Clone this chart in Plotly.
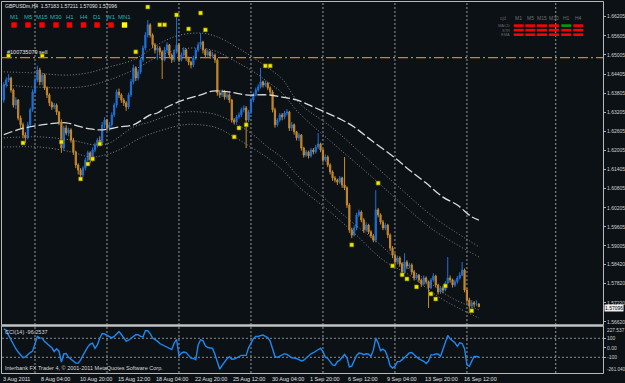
import plotly.graph_objects as go

# ---------------- data ----------------
SYMBOL = "GBPUSDm,H4"
LAST_OHLC = ["1.57183", "1.57211", "1.57090", "1.57096"]

FIRST_OPEN = 1.6359
CLOSE = [
    1.6406, 1.6422, 1.6428, 1.6390, 1.6343, 1.6359, 1.6302, 1.6281, 1.6249, 1.6240,
    1.6281, 1.6328, 1.6384, 1.6422, 1.6453, 1.6416, 1.6437, 1.6397, 1.6375, 1.6350,
    1.6337, 1.6343, 1.6321, 1.6290, 1.6208, 1.6271, 1.6255, 1.6265, 1.6233, 1.6196,
    1.6155, 1.6139, 1.6123, 1.6145, 1.6171, 1.6193, 1.6171, 1.6202, 1.6218, 1.6233,
    1.6224, 1.6281, 1.6296, 1.6271, 1.6281, 1.6312, 1.6343, 1.6384, 1.6375, 1.6359,
    1.6350, 1.6337, 1.6375, 1.6416, 1.6460, 1.6428, 1.6447, 1.6485, 1.6522, 1.6563,
    1.6595, 1.6563, 1.6532, 1.6516, 1.6522, 1.6510, 1.6485, 1.6516, 1.6532, 1.6500,
    1.6485, 1.6510, 1.6532, 1.6485, 1.6500, 1.6516, 1.6491, 1.6478, 1.6469, 1.6491,
    1.6516, 1.6532, 1.6541, 1.6516, 1.6500, 1.6510, 1.6497, 1.6500, 1.6485, 1.6381,
    1.6375, 1.6384, 1.6368, 1.6375, 1.6359, 1.6296, 1.6290, 1.6306, 1.6312, 1.6328,
    1.6334, 1.6296, 1.6321, 1.6359, 1.6375, 1.6390, 1.6400, 1.6416, 1.6406, 1.6412,
    1.6397, 1.6384, 1.6328, 1.6281, 1.6296, 1.6312, 1.6306, 1.6318, 1.6321, 1.6271,
    1.6281, 1.6259, 1.6240, 1.6249, 1.6208, 1.6186, 1.6196, 1.6183, 1.6202, 1.6196,
    1.6211, 1.6221, 1.6202, 1.6171, 1.6180, 1.6155, 1.6133, 1.6114, 1.6108, 1.6101,
    1.6114, 1.6092, 1.6083, 1.6029, 1.5951, 1.5935, 1.5957, 1.5998, 1.6007, 1.5982,
    1.5951, 1.5966, 1.5945, 1.5932, 1.5919, 1.6014, 1.5998, 1.5976, 1.5957, 1.5966,
    1.5935, 1.5894, 1.5872, 1.5850, 1.5863, 1.5844, 1.5819, 1.5850, 1.5838, 1.5841,
    1.5819, 1.5800, 1.5809, 1.5794, 1.5781, 1.5800, 1.5788, 1.5769, 1.5794, 1.5806,
    1.5778, 1.5756, 1.5769, 1.5762, 1.5784, 1.5800, 1.5794, 1.5778, 1.5788, 1.5800,
    1.5809, 1.5825, 1.5762, 1.5731, 1.5712, 1.5722, 1.5718, 1.57183, 1.57096,
]
HIGH = [
    1.6415, 1.6430, 1.6440, 1.6432, 1.6395, 1.6368, 1.6362, 1.6310, 1.6288, 1.6258,
    1.6290, 1.6335, 1.6392, 1.6430, 1.6467, 1.6460, 1.6445, 1.6442, 1.6402, 1.6380,
    1.6355, 1.6350, 1.6348, 1.6325, 1.6298, 1.6278, 1.6280, 1.6272, 1.6270, 1.6240,
    1.6200, 1.6160, 1.6145, 1.6152, 1.6178, 1.6200, 1.6198, 1.6210, 1.6225, 1.6240,
    1.6245, 1.6290, 1.6305, 1.6300, 1.6290, 1.6320, 1.6350, 1.6392, 1.6395, 1.6380,
    1.6365, 1.6355, 1.6382, 1.6425, 1.6470, 1.6465, 1.6455, 1.6492, 1.6530, 1.6572,
    1.6610, 1.6600, 1.6568, 1.6538, 1.6530, 1.6528, 1.6515, 1.6525, 1.6540, 1.6535,
    1.6505, 1.6518, 1.6626, 1.6538, 1.6508, 1.6525, 1.6520, 1.6495, 1.6482, 1.6498,
    1.6522, 1.6540, 1.6569, 1.6545, 1.6520, 1.6518, 1.6515, 1.6510, 1.6505, 1.6490,
    1.6390, 1.6392, 1.6390, 1.6382, 1.6380, 1.6362, 1.6302, 1.6312, 1.6320, 1.6335,
    1.6342, 1.6340, 1.6328, 1.6365, 1.6382, 1.6398, 1.6408, 1.6460, 1.6420, 1.6420,
    1.6415, 1.6402, 1.6390, 1.6335, 1.6302, 1.6318, 1.6318, 1.6325, 1.6330, 1.6325,
    1.6290, 1.6285, 1.6262, 1.6255, 1.6252, 1.6212, 1.6202, 1.6200, 1.6208, 1.6208,
    1.6218, 1.6255, 1.6225, 1.6205, 1.6188, 1.6185, 1.6160, 1.6138, 1.6120, 1.6112,
    1.6120, 1.6118, 1.6180, 1.6088, 1.6035, 1.5958, 1.5965, 1.6005, 1.6015, 1.6012,
    1.5988, 1.5975, 1.5970, 1.5950, 1.5938, 1.6076, 1.6020, 1.6003, 1.5982, 1.5972,
    1.5970, 1.5940, 1.5900, 1.5878, 1.5870, 1.5868, 1.5850, 1.5878, 1.5856, 1.5848,
    1.5846, 1.5825, 1.5815, 1.5812, 1.5798, 1.5808, 1.5805, 1.5792, 1.5800, 1.5815,
    1.5810, 1.5782, 1.5775, 1.5775, 1.5790, 1.5866, 1.5808, 1.5798, 1.5795, 1.5806,
    1.5818, 1.5850, 1.5830, 1.5768, 1.5738, 1.5730, 1.5728, 1.5730, 1.57211,
]
LOW = [
    1.6350, 1.6398, 1.6415, 1.6382, 1.6335, 1.6330, 1.6295, 1.6270, 1.6238, 1.6224,
    1.6235, 1.6275, 1.6322, 1.6378, 1.6415, 1.6405, 1.6405, 1.6390, 1.6365, 1.6340,
    1.6328, 1.6330, 1.6312, 1.6280, 1.6193, 1.6200, 1.6248, 1.6245, 1.6225, 1.6186,
    1.6145, 1.6125, 1.6114, 1.6115, 1.6138, 1.6165, 1.6160, 1.6165, 1.6195, 1.6210,
    1.6215, 1.6218, 1.6270, 1.6262, 1.6262, 1.6275, 1.6305, 1.6335, 1.6365, 1.6350,
    1.6340, 1.6325, 1.6330, 1.6368, 1.6408, 1.6418, 1.6420, 1.6440, 1.6478, 1.6515,
    1.6555, 1.6555, 1.6522, 1.6505, 1.6485, 1.6500, 1.6425, 1.6480, 1.6508, 1.6490,
    1.6475, 1.6478, 1.6505, 1.6478, 1.6480, 1.6495, 1.6482, 1.6468, 1.6458, 1.6462,
    1.6485, 1.6510, 1.6525, 1.6505, 1.6490, 1.6495, 1.6488, 1.6490, 1.6475, 1.6372,
    1.6365, 1.6368, 1.6360, 1.6360, 1.6350, 1.6288, 1.6282, 1.6285, 1.6300, 1.6305,
    1.6320, 1.6208, 1.6290, 1.6315, 1.6352, 1.6370, 1.6385, 1.6395, 1.6398, 1.6400,
    1.6390, 1.6375, 1.6320, 1.6272, 1.6275, 1.6290, 1.6295, 1.6298, 1.6310, 1.6262,
    1.6262, 1.6250, 1.6232, 1.6230, 1.6200, 1.6178, 1.6180, 1.6175, 1.6178, 1.6188,
    1.6190, 1.6205, 1.6195, 1.6162, 1.6165, 1.6148, 1.6125, 1.6105, 1.6100, 1.6092,
    1.6095, 1.6083, 1.6076, 1.6020, 1.5942, 1.5925, 1.5930, 1.5950, 1.5992, 1.5975,
    1.5942, 1.5945, 1.5938, 1.5925, 1.5912, 1.5912, 1.5990, 1.5968, 1.5950, 1.5950,
    1.5925, 1.5885, 1.5862, 1.5835, 1.5842, 1.5835, 1.5810, 1.5812, 1.5828, 1.5830,
    1.5810, 1.5792, 1.5795, 1.5786, 1.5772, 1.5776, 1.5780, 1.5706, 1.5765, 1.5788,
    1.5770, 1.5748, 1.5750, 1.5752, 1.5758, 1.5780, 1.5785, 1.5770, 1.5772, 1.5782,
    1.5795, 1.5805, 1.5755, 1.5722, 1.5690, 1.5705, 1.5708, 1.5712, 1.57090,
]
CCI = [
    200, 185, 130, 80, 25, -10, -45, -80, -105, -95,
    -70, -50, -35, 50, 118, 105, 102, 65, 40, 20,
    0, -39, -10, -36, -150, -65, -60, -100, -118, -135,
    -161, -161, -130, -80, -30, 10, 38, 48, -5, 30,
    100, 150, 145, 130, 118, 105, 120, 145, 170, 140,
    100, 70, 80, 100, 123, 137, 137, 120, 115, 180,
    180, 150, 102, 88, 70, 45, 33, 20, 10, -5,
    -18, 50, 90, -85, -55, -45, -50, -80, -109, -112,
    -126, 30, 84, 75, 22, 3, -3, -6, -70, -150,
    -225, -185, -145, -115, -93, -120, -118, -105, -92, -80,
    -80, -80, 0, 55, 95, 119, 119, 128, 134, 121,
    108, 70, -25, -90, -100, -88, -75, -62, -70, -92,
    -105, -109, -113, -125, -138, -130, -105, -80, -63, -52,
    -39, -26, -5, -40, -100, -112, -150, -180, -185, -145,
    -131, -105, -70, -105, -200, -193, -144, -80, -56, -60,
    -72, -63, -68, -90, -25, 102, 50, -30, -15, -35,
    -100, -190, -214, -195, -145, -144, -125, -104, -79, -54,
    -50, -75, -100, -117, -129, -142, -165, -140, -74, -74,
    -65, -64, -89, -20, 60, 130, 94, 76, 53, 16,
    52, 45, -10, -180, -195, -140, -91, -91, -96.2537,
]
CCI_LABEL = "CCI(14) -96.2537"

MA_X = [0, 7, 19, 26, 31, 36, 40, 44, 48, 54, 61, 64, 68, 75, 82, 87, 94, 101, 110, 116,
        122, 129, 141, 146, 153, 163, 169, 176, 183, 189, 195, 198]
MA_Y = [1.6250, 1.6268, 1.6284, 1.6287, 1.6277, 1.6268, 1.6265, 1.6268, 1.6274, 1.6281,
        1.6312, 1.6318, 1.6337, 1.6359, 1.6375, 1.6387, 1.6384, 1.6375, 1.6375, 1.6368,
        1.6359, 1.6337, 1.6296, 1.6274, 1.6233, 1.6177, 1.6139, 1.6098, 1.6054, 1.6029,
        1.5992, 1.5982]

U_X = [0, 12, 26, 35, 44, 54, 64, 72, 82, 89, 97, 103, 110, 116, 123, 137, 151, 165, 179, 198]
U1_Y = [1.6447, 1.6444, 1.6437, 1.6444, 1.6463, 1.6485, 1.6532, 1.6560, 1.6569, 1.6557,
        1.6525, 1.6497, 1.6460, 1.6425, 1.6350, 1.6271, 1.6177, 1.6083, 1.5992, 1.5898]
U2_Y = [1.6406, 1.6400, 1.6397, 1.6403, 1.6422, 1.6453, 1.6494, 1.6516, 1.6522, 1.6510,
        1.6478, 1.6453, 1.6416, 1.6381, 1.6318, 1.6224, 1.6133, 1.6039, 1.5951, 1.5866]
L1_X = [0, 15, 28, 38, 44, 54, 61, 68, 75, 82, 89, 96, 103, 110, 116, 123, 133, 144, 156,
        165, 176, 186, 198]
L1_Y = [1.6240, 1.6243, 1.6233, 1.6218, 1.6224, 1.6274, 1.6290, 1.6309, 1.6321, 1.6321,
        1.6312, 1.6287, 1.6255, 1.6211, 1.6177, 1.6117, 1.6054, 1.5982, 1.5910, 1.5850,
        1.5794, 1.5740, 1.5700]
L2_X = [0, 15, 28, 36, 42, 48, 57, 65, 75, 82, 89, 96, 103, 110, 116, 123, 135, 146, 158,
        169, 182, 198]
L2_Y = [1.6211, 1.6211, 1.6196, 1.6180, 1.6186, 1.6202, 1.6240, 1.6262, 1.6281, 1.6281,
        1.6271, 1.6243, 1.6211, 1.6177, 1.6139, 1.6086, 1.6014, 1.5941, 1.5857, 1.5809,
        1.5737, 1.5674]

SIG_X = [2, 16, 55, 8, 24, 32, 35, 37, 40, 60, 65, 67, 72, 77, 82, 84, 96, 98, 101, 109,
         111, 145, 156, 162, 166, 168, 172, 178, 180, 184, 195]
SIG_Y = [1.6497, 1.6497, 1.6510, 1.6224, 1.6227, 1.6111, 1.6158, 1.6174, 1.6221, 1.6651,
         1.6595, 1.6595, 1.6626, 1.6582, 1.6632, 1.6579, 1.6243, 1.6271, 1.6281, 1.6466,
         1.6466, 1.5904, 1.6098, 1.5838, 1.5810, 1.5797, 1.5772, 1.5750, 1.5734, 1.5775,
         1.5697]

ORDER_PRICE = 1.6492
ORDER_LABEL = "#100735079 sell"

PRICE_TICKS = ["1.66205", "1.65605", "1.65005", "1.64405", "1.63805", "1.63205", "1.62605",
               "1.62005", "1.61405", "1.60805", "1.60205", "1.59605", "1.59005", "1.58420",
               "1.57820", "1.57220", "1.56620"]
CCI_TICKS = ["100", "0.00", "-100"]
CCI_TICK_VALS = [100, 0, -100]
CCI_MAX_LABEL = "227.537"
CCI_MIN_LABEL = "-261.040"

DATE_LABELS = ["3 Aug 2011", "8 Aug 04:00", "10 Aug 20:00", "15 Aug 12:00", "18 Aug 04:00",
               "22 Aug 20:00", "25 Aug 12:00", "30 Aug 04:00", "1 Sep 20:00", "6 Sep 12:00",
               "9 Sep 04:00", "13 Sep 20:00", "16 Sep 12:00"]
DATE_BARS = [0, 16, 32, 48, 64, 80, 96, 112, 128, 144, 160, 176, 192]
GRID_BARS = [13, 43, 73, 103, 133, 163, 193, 230]

TF_LABELS = ["M1", "M5", "M15", "M30", "H1", "H4", "D1", "W1", "MN1"]
TF_STATE = ["#ff0000", "#ff0000", "#ff0000", "#ff0000", "#ff0000", "#ff0000", "#ff0000",
            "#ff0000", "#ffff00"]
PANEL_COLS = ["M1", "M5", "M15", "M30", "H1", "H4"]
PANEL_ROWS = ["MACD", "STR", "EMA"]
PANEL_STATE = [
    ["#ff0000", "#ff0000", "#ff0000", "#ff0000", "#00a000", "#ff0000"],
    ["#ff0000", "#ff0000", "#ff0000", "#ff0000", "#ff0000", "#ff0000"],
    ["#ff0000", "#ff0000", "#ff0000", "#ff0000", "#ff0000", "#ff0000"],
]
FOOTER = "Interbank FX Trader 4, \u00a9 2001-2011 MetaQuotes Software Corp."

# ---------------- layout helpers ----------------
W, H = 625, 383
BG = "#0b1115"
FONT = "Liberation Sans"


def px(x):
    return x / W


def py(y):
    return 1 - y / H


X_DOM = [px(2), px(603)]
Y_MAIN = [py(325), py(2)]
Y_CCI = [py(373), py(326)]
XR = [-0.75, 249.7]
YR_MAIN = [1.56524, 1.66666]
YR_CCI = [-265.3, 229.5]

bars = list(range(len(CLOSE)))
opens = [FIRST_OPEN] + CLOSE[:-1]

fig = go.Figure()

# envelope bands (dotted)
for xs, ys in [(U_X, U1_Y), (U_X, U2_Y), (L1_X, L1_Y), (L2_X, L2_Y)]:
    fig.add_trace(go.Scatter(x=xs, y=ys, mode="lines", xaxis="x", yaxis="y",
                             line=dict(color="#8a8a8a", width=1, dash="1px,2px", shape="spline"),
                             hoverinfo="skip"))
# long moving average (dashed)
fig.add_trace(go.Scatter(x=MA_X, y=MA_Y, mode="lines", xaxis="x", yaxis="y",
                         line=dict(color="#dcdcdc", width=1.3, dash="9px,3px", shape="spline"),
                         hoverinfo="skip"))

fig.add_trace(go.Candlestick(
    x=bars, open=opens, high=HIGH, low=LOW, close=CLOSE, xaxis="x", yaxis="y",
    increasing=dict(line=dict(color="#1f70d6", width=1), fillcolor="#1f70d6"),
    decreasing=dict(line=dict(color="#c98a2c", width=1), fillcolor="#b97a26"),
    whiskerwidth=0, hoverinfo="skip"))

fig.add_trace(go.Scatter(x=SIG_X, y=SIG_Y, mode="markers", xaxis="x", yaxis="y",
                         marker=dict(symbol="square", size=4, color="#f2ea00",
                                     line=dict(color="#6a6400", width=0.6)),
                         hoverinfo="skip"))

fig.add_trace(go.Scatter(x=bars, y=CCI, mode="lines", xaxis="x2", yaxis="y2",
                         line=dict(color="#1e88f0", width=1.4), hoverinfo="skip"))

shapes = []
# vertical grid
for b in GRID_BARS:
    shapes.append(dict(type="line", xref="x", yref="paper", x0=b, x1=b, y0=py(373), y1=py(2),
                       line=dict(color="#9a9a9a", width=1, dash="2px,2px"), layer="below"))
# CCI levels
for v in [100, -100]:
    shapes.append(dict(type="line", xref="paper", yref="y2", x0=X_DOM[0], x1=X_DOM[1], y0=v, y1=v,
                       line=dict(color="#8a8a8a", width=1, dash="2px,2px"), layer="below"))
# order line
shapes.append(dict(type="line", xref="paper", yref="y", x0=X_DOM[0], x1=X_DOM[1],
                   y0=ORDER_PRICE, y1=ORDER_PRICE,
                   line=dict(color="#d8801a", width=1.2, dash="10px,3px,2px,3px")))
# borders
shapes.append(dict(type="rect", xref="paper", yref="paper", x0=px(1.5), x1=px(603.5),
                   y0=py(325), y1=py(1.5), line=dict(color="#b8b8b8", width=1)))
shapes.append(dict(type="rect", xref="paper", yref="paper", x0=px(1.5), x1=px(603.5),
                   y0=py(373.5), y1=py(326), line=dict(color="#b8b8b8", width=1)))
shapes.append(dict(type="line", xref="paper", yref="paper", x0=px(1.5), x1=px(603.5),
                   y0=py(325.5), y1=py(325.5), line=dict(color="#c4c4c4", width=2)))

annotations = []
# timeframe row
TF_CX = [14, 28, 42, 56, 69.5, 83.5, 97, 111, 124.5]
for lab, col, cx in zip(TF_LABELS, TF_STATE, TF_CX):
    annotations.append(dict(text=lab, x=px(cx), y=py(17.5), xref="paper", yref="paper",
                            showarrow=False, xanchor="center", yanchor="middle",
                            font=dict(family=FONT, size=6, color="#22b4b4")))
    shapes.append(dict(type="rect", xref="paper", yref="paper", x0=px(cx - 2.7), x1=px(cx + 2.7),
                       y0=py(27.7), y1=py(22.3), fillcolor=col, line=dict(width=0)))

# right panel
COL_CX = [518.7, 530.3, 542, 554, 566.3, 578.3]
ROW_CY = [25.6, 30.2, 34.7]
annotations.append(dict(text="ojd", x=px(503), y=py(18.5), xref="paper", yref="paper",
                        showarrow=False, xanchor="center", yanchor="middle",
                        font=dict(family=FONT, size=4.5, color="#5e5e5e")))
for lab, cx in zip(PANEL_COLS, COL_CX):
    annotations.append(dict(text=lab, x=px(cx), y=py(18.5), xref="paper", yref="paper",
                            showarrow=False, xanchor="center", yanchor="middle",
                            font=dict(family=FONT, size=5, color="#707070")))
for r, (lab, cy) in enumerate(zip(PANEL_ROWS, ROW_CY)):
    annotations.append(dict(text=lab, x=px(511.5), y=py(cy), xref="paper", yref="paper",
                            showarrow=False, xanchor="right", yanchor="middle",
                            font=dict(family=FONT, size=4, color="#6a6a6a")))
    for c, cx in enumerate(COL_CX):
        shapes.append(dict(type="rect", xref="paper", yref="paper", x0=px(cx - 5), x1=px(cx + 5),
                           y0=py(cy + 1.3), y1=py(cy - 1.3), fillcolor=PANEL_STATE[r][c],
                           line=dict(width=0)))

# header text
annotations.append(dict(text=SYMBOL + "  " + " ".join(LAST_OHLC), x=px(2.5), y=py(6),
                        xref="paper", yref="paper", showarrow=False, xanchor="left",
                        yanchor="middle", font=dict(family=FONT, size=5, color="#e6e6e6")))
annotations.append(dict(text=ORDER_LABEL, x=px(5), y=py(52), xref="paper", yref="paper",
                        showarrow=False, xanchor="left", yanchor="middle",
                        font=dict(family=FONT, size=5.5, color="#e6e6e6")))
# CCI texts
annotations.append(dict(text=CCI_LABEL, x=px(3), y=py(331.5), xref="paper", yref="paper",
                        showarrow=False, xanchor="left", yanchor="middle",
                        font=dict(family=FONT, size=5.5, color="#d8d8d8")))
annotations.append(dict(text=FOOTER, x=px(3), y=py(368), xref="paper", yref="paper",
                        showarrow=False, xanchor="left", yanchor="middle",
                        font=dict(family=FONT, size=5.5, color="#d8d8d8")))
annotations.append(dict(text=CCI_MAX_LABEL, x=px(605), y=py(330), xref="paper", yref="paper",
                        showarrow=False, xanchor="left", yanchor="middle",
                        font=dict(family=FONT, size=4.8, color="#d0d0d0")))
annotations.append(dict(text=CCI_MIN_LABEL, x=px(604.5), y=py(369.5), xref="paper", yref="paper",
                        showarrow=False, xanchor="left", yanchor="middle",
                        font=dict(family=FONT, size=4.6, color="#d0d0d0")))
# date labels
for lab, b in zip(DATE_LABELS, DATE_BARS):
    annotations.append(dict(text=lab, x=b, y=py(378.5), xref="x2", yref="paper",
                            showarrow=False, xanchor="left", yanchor="middle", xshift=-3,
                            font=dict(family=FONT, size=5.5, color="#e0e0e0")))
# current price box
annotations.append(dict(text=LAST_OHLC[3], x=px(604), y=float(LAST_OHLC[3]), xref="paper",
                        yref="y", showarrow=False, xanchor="left", yanchor="middle",
                        bgcolor="#eeeeee", borderpad=0, yshift=-1,
                        font=dict(family=FONT, size=5, color="#000000")))

fig.update_layout(
    width=W, height=H, margin=dict(l=0, r=0, t=0, b=0),
    paper_bgcolor=BG, plot_bgcolor="rgba(0,0,0,0)",
    showlegend=False, hovermode=False,
    xaxis=dict(domain=X_DOM, range=XR, anchor="y", showticklabels=False, showgrid=False,
               zeroline=False, showline=False, ticks="", rangeslider=dict(visible=False),
               fixedrange=True),
    yaxis=dict(domain=Y_MAIN, range=YR_MAIN, anchor="x", side="right", showgrid=False,
               zeroline=False, showline=False, ticks="outside", ticklen=2, tickcolor="#b0b0b0",
               tickvals=[float(t) for t in PRICE_TICKS], ticktext=PRICE_TICKS,
               tickfont=dict(family=FONT, size=5, color="#d0d0d0"), automargin=False,
               fixedrange=True),
    xaxis2=dict(domain=X_DOM, range=XR, anchor="y2", showticklabels=False, showgrid=False,
                zeroline=False, showline=False, ticks="", fixedrange=True),
    yaxis2=dict(domain=Y_CCI, range=YR_CCI, anchor="x2", side="right", showgrid=False,
                zeroline=False, showline=False, ticks="outside", ticklen=2, tickcolor="#b0b0b0",
                tickvals=CCI_TICK_VALS, ticktext=CCI_TICKS,
                tickfont=dict(family=FONT, size=5, color="#d0d0d0"), automargin=False,
                fixedrange=True),
    shapes=shapes, annotations=annotations,
)

fig.write_html("out.html", config=dict(displayModeBar=False, staticPlot=True))
